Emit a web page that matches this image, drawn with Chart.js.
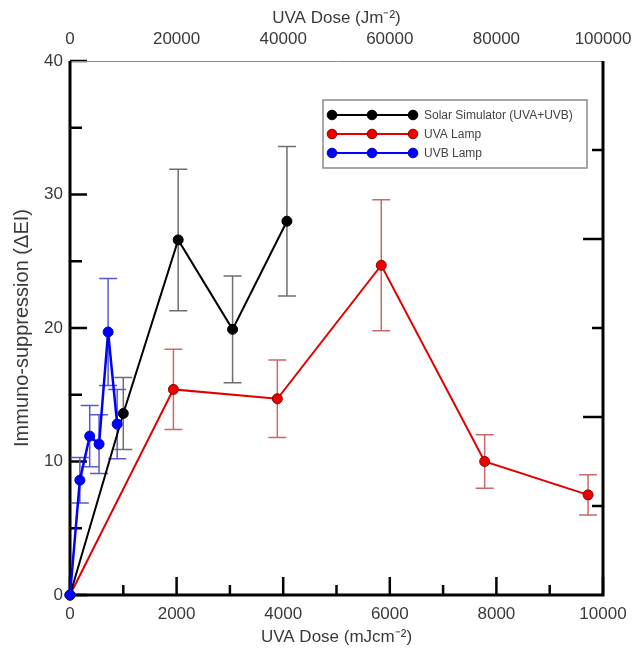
<!DOCTYPE html>
<html><head><meta charset="utf-8">
<script src="https://cdn.jsdelivr.net/npm/chart.js@4.4.0/dist/chart.umd.min.js"></script>
<style>html,body{margin:0;padding:0;background:#fff}#wrap{width:637px;height:655px;position:relative}</style>
</head><body><div id="wrap"><canvas id="c" width="637" height="655"></canvas></div>
<script>
// ---- data ----
const xTicksBottom = [0, 2000, 4000, 6000, 8000, 10000];
const xTicksTop = [0, 20000, 40000, 60000, 80000, 100000];
const yTicks = [0, 10, 20, 30, 40];

const seriesNames = ['Solar Simulator (UVA+UVB)', 'UVA Lamp', 'UVB Lamp'];

const solarDose = [0, 1000, 2030, 3050, 4070];
const solarValue = [0, 13.6, 26.6, 19.9, 28.0];
const solarErr = [0, 2.7, 5.3, 4.0, 5.6];

const uvaDose = [0, 1940, 3890, 5840, 7780, 9720];
const uvaValue = [0, 15.4, 14.7, 24.7, 10.0, 7.5];
const uvaErr = [0, 3.0, 2.9, 4.9, 2.0, 1.5];

const uvbDose = [0, 185, 370, 545, 715, 885];
const uvbValue = [0, 8.6, 11.9, 11.3, 19.7, 12.8];
const uvbErr = [0, 1.7, 2.3, 2.2, 4.0, 2.6];

const FONT = "'Liberation Sans', Arial, sans-serif";
const TXT = '#3a3a3a';

function pts(xs, ys, es) { return xs.map((x, i) => ({ x: x, y: ys[i], e: es[i] })); }

const styles = [
  { line: '#000000', fill: '#000000', border: '#000000', err: '#6e6e6e' },
  { line: '#e00000', fill: '#ee0000', border: '#8a0000', err: '#c86a6a' },
  { line: '#0000ff', fill: '#0000ff', border: '#0000c8', err: '#5a5ad0' }
];

const errPlugin = {
  id: 'errbars',
  beforeDatasetsDraw(chart) {
    const ctx = chart.ctx, xs = chart.scales.x, ys = chart.scales.y;
    const ca = chart.chartArea;
    ctx.save();
    ctx.strokeStyle = '#000';
    ctx.lineCap = 'butt';
    ctx.lineWidth = 2.5;
    for (let v = 0; v <= 10000; v += 1000) {
      const px = xs.getPixelForValue(v);
      const len = (v % 2000 === 0) ? 18 : 10;
      ctx.beginPath(); ctx.moveTo(px, ca.bottom); ctx.lineTo(px, ca.bottom - len); ctx.stroke();
    }
    for (let v = 0; v <= 40; v += 5) {
      const py = ys.getPixelForValue(v);
      const len = (v % 10 === 0) ? 17 : 12;
      ctx.beginPath(); ctx.moveTo(ca.left, py); ctx.lineTo(ca.left + len, py); ctx.stroke();
    }
    const y2 = chart.scales.y2;
    for (let v = 10; v < 60; v += 10) {
      const py = y2.getPixelForValue(v);
      const len = (v % 20 === 0) ? 20 : 11;
      ctx.beginPath(); ctx.moveTo(ca.right, py); ctx.lineTo(ca.right - len, py); ctx.stroke();
    }
    ctx.strokeStyle = '#8c8c8c'; ctx.lineWidth = 1;
    ctx.beginPath(); ctx.moveTo(ca.left, ca.top + 0.5); ctx.lineTo(ca.right, ca.top + 0.5); ctx.stroke();
    ctx.strokeStyle = '#000'; ctx.lineWidth = 3;
    ctx.beginPath();
    ctx.moveTo(ca.left, ca.top); ctx.lineTo(ca.left, ca.bottom); ctx.lineTo(ca.right, ca.bottom); ctx.lineTo(ca.right, ca.top);
    ctx.stroke();

    chart.data.datasets.forEach(ds => {
      ctx.strokeStyle = styles[ds.sIndex].err;
      ctx.lineWidth = 1.5;
      ds.data.forEach(p => {
        if (!p.e) return;
        const px = xs.getPixelForValue(p.x);
        const top = ys.getPixelForValue(p.y + p.e);
        const bot = ys.getPixelForValue(p.y - p.e);
        const w = 9;
        ctx.beginPath();
        ctx.moveTo(px, top); ctx.lineTo(px, bot);
        ctx.moveTo(px - w, top); ctx.lineTo(px + w, top);
        ctx.moveTo(px - w, bot); ctx.lineTo(px + w, bot);
        ctx.stroke();
      });
    });
    ctx.restore();
  },
  afterDatasetsDraw(chart) {
    const ctx = chart.ctx;
    ctx.save();
    const bx = 323, by = 100, bw = 264, bh = 68;
    ctx.fillStyle = '#fff';
    ctx.fillRect(bx, by, bw, bh);
    ctx.strokeStyle = '#8a8a8a'; ctx.lineWidth = 1.5;
    ctx.strokeRect(bx, by, bw, bh);
    const rows = [115, 134, 153];
    seriesNames.forEach((name, i) => {
      const st = styles[i], y = rows[i];
      ctx.strokeStyle = st.line; ctx.lineWidth = 2;
      ctx.beginPath(); ctx.moveTo(332, y); ctx.lineTo(413, y); ctx.stroke();
      [332, 372, 413].forEach(x => {
        ctx.beginPath(); ctx.arc(x, y, 4.8, 0, Math.PI * 2);
        ctx.fillStyle = st.fill; ctx.fill();
        ctx.strokeStyle = st.border; ctx.lineWidth = 1; ctx.stroke();
      });
      ctx.fillStyle = '#444';
      ctx.font = "12px " + FONT;
      ctx.textBaseline = 'middle'; ctx.textAlign = 'left';
      ctx.fillText(name, 424, y + 0.5);
    });
    ctx.restore();
  }
};

function mkDs(i, data, order) {
  const st = styles[i];
  return {
    label: seriesNames[i], sIndex: i, data: data, order: order,
    borderColor: st.line, backgroundColor: st.fill, borderWidth: (i === 2 ? 2.5 : 2),
    pointBackgroundColor: st.fill, pointBorderColor: st.border, pointBorderWidth: 1,
    pointRadius: 5, pointHoverRadius: 5, tension: 0, clip: false, xAxisID: 'x', yAxisID: 'y'
  };
}

const tickFont = { size: 17, family: FONT };
const plain = v => String(v);

new Chart(document.getElementById('c'), {
  type: 'line',
  data: {
    datasets: [
      mkDs(2, pts(uvbDose, uvbValue, uvbErr), 0),
      mkDs(0, pts(solarDose, solarValue, solarErr), 1),
      mkDs(1, pts(uvaDose, uvaValue, uvaErr), 2)
    ]
  },
  options: {
    responsive: false, animation: false, devicePixelRatio: 1,
    layout: { padding: 0 },
    plugins: { legend: { display: false }, tooltip: { enabled: false } },
    scales: {
      x: {
        type: 'linear', position: 'bottom', min: 0, max: 10000,
        afterBuildTicks: s => { s.ticks = xTicksBottom.map(v => ({ value: v })); },
        grid: { display: false, drawTicks: false }, border: { display: false },
        ticks: { padding: 9, font: tickFont, color: TXT, maxRotation: 0, autoSkip: false, callback: plain },
        title: { display: true, text: 'UVA Dose (mJcm⁻²)', font: { size: 17, family: FONT }, color: TXT, padding: { top: 0, bottom: 7 } },
        afterFit: s => { s.height = 60; s.paddingLeft = 0; s.paddingRight = 0; }
      },
      x2: {
        type: 'linear', position: 'top', min: 0, max: 100000,
        afterBuildTicks: s => { s.ticks = xTicksTop.map(v => ({ value: v })); },
        grid: { display: false, drawTicks: false }, border: { display: false },
        ticks: { padding: 11, font: tickFont, color: TXT, maxRotation: 0, autoSkip: false, callback: plain },
        title: { display: true, text: 'UVA Dose (Jm⁻²)', font: { size: 17, family: FONT }, color: TXT, padding: { top: 8, bottom: 0 } },
        afterFit: s => { s.height = 61; s.paddingLeft = 0; s.paddingRight = 0; }
      },
      y: {
        type: 'linear', position: 'left', min: 0, max: 40,
        afterBuildTicks: s => { s.ticks = yTicks.map(v => ({ value: v })); },
        grid: { display: false, drawTicks: false }, border: { display: false },
        ticks: { padding: 7, font: tickFont, color: TXT, callback: plain },
        title: { display: true, text: 'Immuno-suppression (ΔEI)', font: { size: 20, family: FONT }, color: TXT, padding: { top: 10, bottom: 0 } },
        afterFit: s => { s.width = 70; s.paddingTop = 0; s.paddingBottom = 0; }
      },
      y2: {
        type: 'linear', position: 'right', min: 0, max: 60,
        grid: { display: false, drawTicks: false }, border: { display: false },
        ticks: { display: false },
        afterFit: s => { s.width = 34; s.paddingTop = 0; s.paddingBottom = 0; }
      }
    }
  },
  plugins: [errPlugin]
});
</script></body></html>
